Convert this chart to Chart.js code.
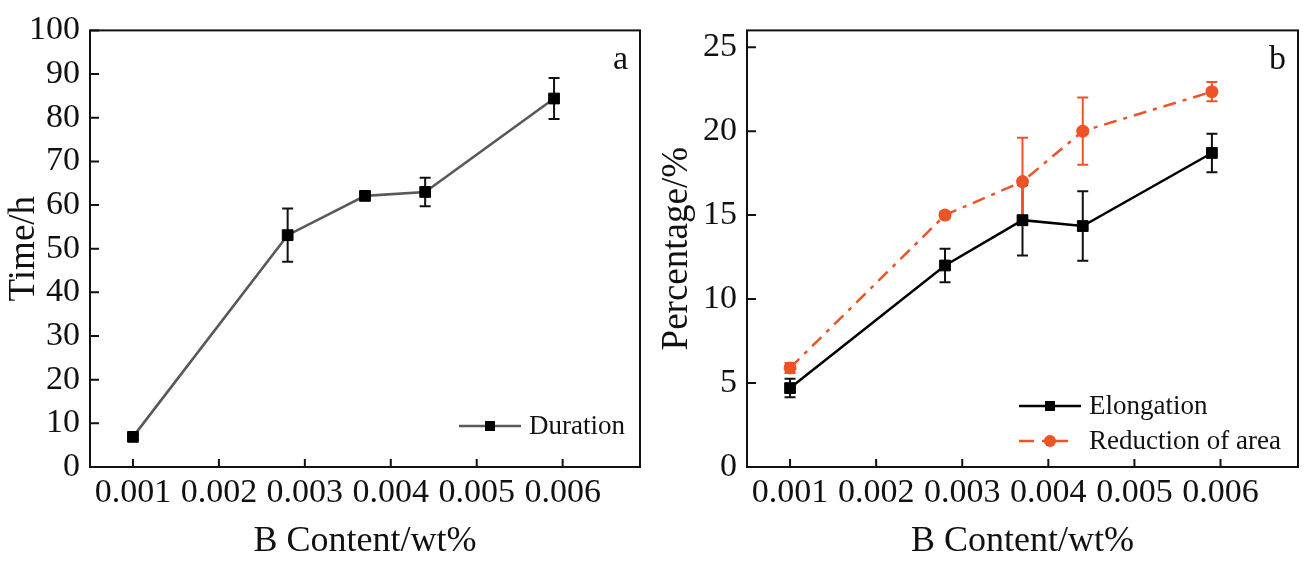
<!DOCTYPE html>
<html>
<head>
<meta charset="utf-8">
<script src="https://cdn.jsdelivr.net/npm/chart.js@4.4.1/dist/chart.umd.min.js"></script>
<style>
  html, body { margin: 0; padding: 0; background: #fff; }
  #wrap { position: relative; width: 1307px; height: 567px; }
  .panel { position: absolute; top: 0; height: 567px; }
  #panelA { left: 0; width: 653px; }
  #panelB { left: 653px; width: 654px; }
</style>
</head>
<body>
<div id="wrap">
  <div class="panel" id="panelA"><canvas id="chartA"></canvas></div>
  <div class="panel" id="panelB"><canvas id="chartB"></canvas></div>
</div>
<script>
// values
const bContent = [0.001, 0.0028, 0.0037, 0.0044, 0.0059];
const durationH = [6.9, 53.1, 62.1, 63.0, 84.4];
const durationErr = [0.5, 6.1, 0.6, 3.25, 4.7];
const elongation = [4.7, 12.0, 14.7, 14.35, 18.7];
const elongationErr = [0.55, 1.0, 2.1, 2.07, 1.14];
const reductionArea = [5.9, 15.0, 17.0, 20.0, 22.35];
const reductionErr = [0.3, 0.2, 2.6, 2.0, 0.57];

const xTicks = [0.001, 0.002, 0.003, 0.004, 0.005, 0.006];
const timeTicks = [0, 10, 20, 30, 40, 50, 60, 70, 80, 90, 100];
const pctTicks = [0, 5, 10, 15, 20, 25];

const FONT = '"Liberation Serif", "Times New Roman", serif';
const ORANGE = '#ec5428';

Chart.defaults.font.family = FONT;
Chart.defaults.color = '#111';

function toPoints(ys) {
    return bContent.map((x, i) => ({ x: x, y: ys[i] }));
}

// error bars, box with inward ticks, panel letter and legend
const figurePlugin = {
    id: 'figure',
    beforeDatasetsDraw(chart) {
        const ctx = chart.ctx;
        const xs = chart.scales.x, ys = chart.scales.y;
        chart.data.datasets.forEach(ds => {
            if (!ds.err) return;
            ctx.save();
            ctx.strokeStyle = ds.errColor;
            ctx.lineWidth = 2;
            ds.data.forEach((p, i) => {
                const px = xs.getPixelForValue(p.x);
                const top = ys.getPixelForValue(p.y + ds.err[i]);
                const bot = ys.getPixelForValue(p.y - ds.err[i]);
                ctx.beginPath();
                ctx.moveTo(px, top); ctx.lineTo(px, bot);
                ctx.moveTo(px - 5.5, top); ctx.lineTo(px + 5.5, top);
                ctx.moveTo(px - 5.5, bot); ctx.lineTo(px + 5.5, bot);
                ctx.stroke();
            });
            ctx.restore();
        });
    },
    afterDraw(chart, args, opts) {
        const ctx = chart.ctx;
        const a = chart.chartArea;
        const xs = chart.scales.x, ys = chart.scales.y;
        ctx.save();
        ctx.strokeStyle = '#111';
        ctx.lineWidth = 2;
        ctx.strokeRect(a.left, a.top, a.right - a.left, a.bottom - a.top);
        ctx.beginPath();
        xs.ticks.forEach(t => {
            const px = xs.getPixelForValue(t.value);
            ctx.moveTo(px, a.bottom); ctx.lineTo(px, a.bottom - 8);
        });
        ys.ticks.forEach(t => {
            const py = ys.getPixelForValue(t.value);
            ctx.moveTo(a.left, py); ctx.lineTo(a.left + 9, py);
        });
        ctx.stroke();

        ctx.fillStyle = '#111';
        ctx.font = '34px ' + FONT;
        ctx.textAlign = 'right';
        ctx.textBaseline = 'alphabetic';
        ctx.fillText(opts.letter, a.right - 12, a.top + 39);

        // legend
        ctx.font = '27px ' + FONT;
        ctx.textAlign = 'left';
        ctx.textBaseline = 'middle';
        chart.data.datasets.forEach((ds, i) => {
            const y = opts.legendY + i * 35;
            const x0 = opts.legendX;
            ctx.save();
            ctx.strokeStyle = ds.borderColor;
            ctx.lineWidth = ds.borderWidth;
            ctx.setLineDash(ds.legendDash || []);
            ctx.beginPath();
            ctx.moveTo(x0, y); ctx.lineTo(x0 + 62, y);
            ctx.stroke();
            ctx.restore();
            ctx.fillStyle = ds.pointBackgroundColor;
            if (ds.pointStyle === 'rect') {
                ctx.fillRect(x0 + 31 - 5, y - 5, 10, 10);
            } else {
                ctx.beginPath();
                ctx.arc(x0 + 31, y, 6, 0, Math.PI * 2);
                ctx.fill();
            }
            ctx.fillStyle = '#111';
            ctx.fillText(ds.label, x0 + 70, y + 1);
        });
        ctx.restore();
    }
};

function makeChart(id, datasets, yTicks, yMax, yTitle, yWidth, rightPad, letter, legendX, legendY) {
    return new Chart(document.getElementById(id), {
        type: 'line',
        data: { datasets: datasets },
        plugins: [figurePlugin],
        options: {
            responsive: true,
            maintainAspectRatio: false,
            animation: false,
            layout: { padding: { top: 23, right: rightPad, bottom: 0, left: 0 } },
            plugins: {
                legend: { display: false },
                tooltip: { enabled: false },
                figure: { letter: letter, legendX: legendX, legendY: legendY }
            },
            scales: {
                x: {
                    type: 'linear',
                    min: 0.0005,
                    max: 0.0069,
                    afterBuildTicks: s => { s.ticks = xTicks.map(v => ({ value: v })); },
                    afterFit: s => { s.height = 100; },
                    grid: { display: false, drawTicks: false },
                    border: { display: false },
                    ticks: {
                        font: { size: 34 },
                        color: '#111',
                        padding: 6,
                        maxRotation: 0,
                        autoSkip: false,
                        callback: v => v.toFixed(3)
                    },
                    title: {
                        display: true,
                        text: 'B Content/wt%',
                        font: { size: 36 },
                        color: '#111',
                        padding: { top: 0, bottom: 4 }
                    }
                },
                y: {
                    min: 0,
                    max: yMax,
                    afterBuildTicks: s => { s.ticks = yTicks.map(v => ({ value: v })); },
                    afterFit: s => { s.width = yWidth; },
                    grid: { display: false, drawTicks: false },
                    border: { display: false },
                    ticks: {
                        font: { size: 34 },
                        color: '#111',
                        padding: 10,
                        autoSkip: false
                    },
                    title: {
                        display: true,
                        text: yTitle,
                        font: { size: 37 },
                        color: '#111',
                        padding: { top: 2, bottom: 0 }
                    }
                }
            }
        }
    });
}

makeChart('chartA', [{
    label: 'Duration',
    data: toPoints(durationH),
    err: durationErr,
    errColor: '#111',
    borderColor: '#595959',
    borderWidth: 2.6,
    pointStyle: 'rect',
    pointRadius: 7.6,
    pointBorderWidth: 1,
    pointBackgroundColor: '#000',
    pointBorderColor: '#000',
    tension: 0
}], timeTicks, 100, 'Time/h', 90, 13, 'a', 459, 426);

makeChart('chartB', [{
    label: 'Elongation',
    data: toPoints(elongation),
    err: elongationErr,
    errColor: '#111',
    borderColor: '#000',
    borderWidth: 2.5,
    pointStyle: 'rect',
    pointRadius: 7.6,
    pointBorderWidth: 1,
    pointBackgroundColor: '#000',
    pointBorderColor: '#000',
    tension: 0
}, {
    label: 'Reduction of area',
    data: toPoints(reductionArea),
    err: reductionErr,
    errColor: ORANGE,
    borderColor: ORANGE,
    borderWidth: 2.5,
    borderDash: [13, 7, 4, 7],
    legendDash: [15, 8, 3, 8, 15],
    pointStyle: 'circle',
    pointRadius: 6.5,
    pointBorderWidth: 0,
    pointBackgroundColor: ORANGE,
    pointBorderColor: ORANGE,
    tension: 0
}], pctTicks, 26, 'Percentage/%', 94, 9, 'b', 366, 406);
</script>
</body>
</html>
